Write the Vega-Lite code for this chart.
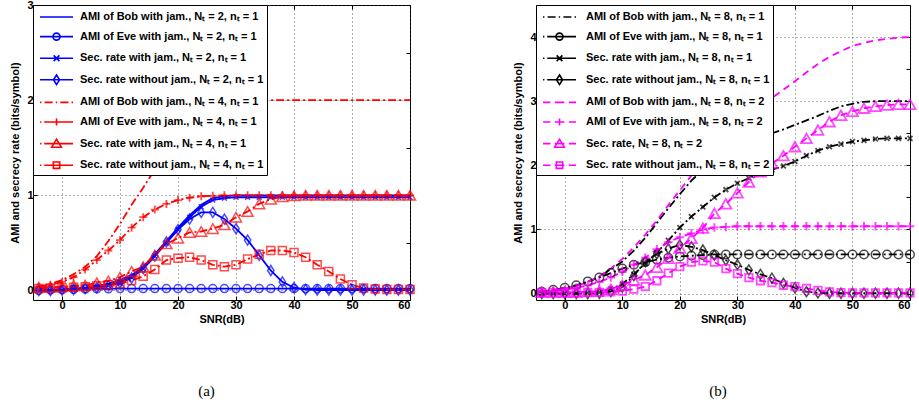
{
"$schema": "https://vega.github.io/schema/vega-lite/v6.json",
"padding": {"left": 9, "top": -2, "right": 0, "bottom": 0},
"background": "white",
"bounds": "flush",
"spacing": 126,
"resolve": {"scale": {"stroke": "independent", "strokeDash": "independent", "color": "independent", "shape": "independent"}, "legend": {"color": "independent", "shape": "independent"}},
"config": {
 "view": {"stroke": "black", "strokeWidth": 1},
 "font": "Liberation Sans",
 "legend": {"fillColor": "white", "strokeColor": "black", "strokeWidth": 1, "cornerRadius": 0},
 "axis": {"labelFont": "Liberation Sans", "labelFontWeight": "bold", "labelFontSize": 11, "labelColor": "black", "titleFont": "Liberation Sans", "titleFontWeight": "bold", "titleFontSize": 11, "titleColor": "black", "domain": false, "tickColor": "black", "tickSize": -4, "gridColor": "#333333", "gridDash": [1, 3], "gridWidth": 0.8, "gridOpacity": 1}
},
"datasets": {
"a": [
{"s":"a1","x":-4,"y":0},{"s":"a1","x":-2,"y":0.005},{"s":"a1","x":0,"y":0.01},{"s":"a1","x":2,"y":0.02},{"s":"a1","x":4,"y":0.03},{"s":"a1","x":6,"y":0.05},{"s":"a1","x":8,"y":0.07},{"s":"a1","x":10,"y":0.11},{"s":"a1","x":12,"y":0.16},{"s":"a1","x":14,"y":0.25},{"s":"a1","x":16,"y":0.38},{"s":"a1","x":18,"y":0.52},{"s":"a1","x":20,"y":0.66},{"s":"a1","x":22,"y":0.79},{"s":"a1","x":24,"y":0.9},{"s":"a1","x":26,"y":0.97},{"s":"a1","x":28,"y":0.99},{"s":"a1","x":30,"y":1},{"s":"a1","x":32,"y":1},{"s":"a1","x":34,"y":1},{"s":"a1","x":36,"y":1},{"s":"a1","x":38,"y":1},{"s":"a1","x":40,"y":1},{"s":"a1","x":42,"y":1},{"s":"a1","x":44,"y":1},{"s":"a1","x":46,"y":1},{"s":"a1","x":48,"y":1},{"s":"a1","x":50,"y":1},{"s":"a1","x":52,"y":1},{"s":"a1","x":54,"y":1},{"s":"a1","x":56,"y":1},{"s":"a1","x":58,"y":1},{"s":"a1","x":60,"y":1},
{"s":"a2","x":-4,"y":0},{"s":"a2","x":-2,"y":0.005},{"s":"a2","x":0,"y":0.01},{"s":"a2","x":2,"y":0.012},{"s":"a2","x":4,"y":0.015},{"s":"a2","x":6,"y":0.017},{"s":"a2","x":8,"y":0.018},{"s":"a2","x":10,"y":0.02},{"s":"a2","x":12,"y":0.02},{"s":"a2","x":14,"y":0.02},{"s":"a2","x":16,"y":0.02},{"s":"a2","x":18,"y":0.02},{"s":"a2","x":20,"y":0.02},{"s":"a2","x":22,"y":0.02},{"s":"a2","x":24,"y":0.02},{"s":"a2","x":26,"y":0.02},{"s":"a2","x":28,"y":0.02},{"s":"a2","x":30,"y":0.02},{"s":"a2","x":32,"y":0.02},{"s":"a2","x":34,"y":0.02},{"s":"a2","x":36,"y":0.02},{"s":"a2","x":38,"y":0.02},{"s":"a2","x":40,"y":0.02},{"s":"a2","x":42,"y":0.02},{"s":"a2","x":44,"y":0.02},{"s":"a2","x":46,"y":0.02},{"s":"a2","x":48,"y":0.02},{"s":"a2","x":50,"y":0.02},{"s":"a2","x":52,"y":0.02},{"s":"a2","x":54,"y":0.02},{"s":"a2","x":56,"y":0.02},{"s":"a2","x":58,"y":0.02},{"s":"a2","x":60,"y":0.02},
{"s":"a3","x":-4,"y":0},{"s":"a3","x":-2,"y":0},{"s":"a3","x":0,"y":0},{"s":"a3","x":2,"y":0.01},{"s":"a3","x":4,"y":0.02},{"s":"a3","x":6,"y":0.03},{"s":"a3","x":8,"y":0.05},{"s":"a3","x":10,"y":0.09},{"s":"a3","x":12,"y":0.14},{"s":"a3","x":14,"y":0.23},{"s":"a3","x":16,"y":0.36},{"s":"a3","x":18,"y":0.5},{"s":"a3","x":20,"y":0.64},{"s":"a3","x":22,"y":0.77},{"s":"a3","x":24,"y":0.88},{"s":"a3","x":26,"y":0.95},{"s":"a3","x":28,"y":0.97},{"s":"a3","x":30,"y":0.98},{"s":"a3","x":32,"y":0.98},{"s":"a3","x":34,"y":0.98},{"s":"a3","x":36,"y":0.98},{"s":"a3","x":38,"y":0.98},{"s":"a3","x":40,"y":0.98},{"s":"a3","x":42,"y":0.98},{"s":"a3","x":44,"y":0.98},{"s":"a3","x":46,"y":0.98},{"s":"a3","x":48,"y":0.98},{"s":"a3","x":50,"y":0.98},{"s":"a3","x":52,"y":0.98},{"s":"a3","x":54,"y":0.98},{"s":"a3","x":56,"y":0.98},{"s":"a3","x":58,"y":0.98},{"s":"a3","x":60,"y":0.98},
{"s":"a4","x":-4,"y":0},{"s":"a4","x":-2,"y":0},{"s":"a4","x":0,"y":0.005},{"s":"a4","x":2,"y":0.01},{"s":"a4","x":4,"y":0.02},{"s":"a4","x":6,"y":0.03},{"s":"a4","x":8,"y":0.05},{"s":"a4","x":10,"y":0.08},{"s":"a4","x":12,"y":0.13},{"s":"a4","x":14,"y":0.23},{"s":"a4","x":16,"y":0.36},{"s":"a4","x":18,"y":0.51},{"s":"a4","x":20,"y":0.64},{"s":"a4","x":22,"y":0.75},{"s":"a4","x":24,"y":0.82},{"s":"a4","x":26,"y":0.82},{"s":"a4","x":28,"y":0.75},{"s":"a4","x":30,"y":0.65},{"s":"a4","x":32,"y":0.53},{"s":"a4","x":34,"y":0.37},{"s":"a4","x":36,"y":0.21},{"s":"a4","x":38,"y":0.09},{"s":"a4","x":40,"y":0.03},{"s":"a4","x":42,"y":0.01},{"s":"a4","x":44,"y":0.005},{"s":"a4","x":46,"y":0.005},{"s":"a4","x":48,"y":0.005},{"s":"a4","x":50,"y":0.005},{"s":"a4","x":52,"y":0.005},{"s":"a4","x":54,"y":0.005},{"s":"a4","x":56,"y":0.005},{"s":"a4","x":58,"y":0.005},{"s":"a4","x":60,"y":0.005},
{"s":"a5","x":-4,"y":0.04},{"s":"a5","x":-2,"y":0.07},{"s":"a5","x":0,"y":0.11},{"s":"a5","x":2,"y":0.17},{"s":"a5","x":4,"y":0.25},{"s":"a5","x":6,"y":0.36},{"s":"a5","x":8,"y":0.52},{"s":"a5","x":10,"y":0.7},{"s":"a5","x":12,"y":0.9},{"s":"a5","x":14,"y":1.08},{"s":"a5","x":16,"y":1.27},{"s":"a5","x":18,"y":1.45},{"s":"a5","x":20,"y":1.6},{"s":"a5","x":22,"y":1.73},{"s":"a5","x":24,"y":1.83},{"s":"a5","x":26,"y":1.9},{"s":"a5","x":28,"y":1.95},{"s":"a5","x":30,"y":1.98},{"s":"a5","x":32,"y":1.99},{"s":"a5","x":34,"y":2},{"s":"a5","x":36,"y":2},{"s":"a5","x":38,"y":2},{"s":"a5","x":40,"y":2},{"s":"a5","x":42,"y":2},{"s":"a5","x":44,"y":2},{"s":"a5","x":46,"y":2},{"s":"a5","x":48,"y":2},{"s":"a5","x":50,"y":2},{"s":"a5","x":52,"y":2},{"s":"a5","x":54,"y":2},{"s":"a5","x":56,"y":2},{"s":"a5","x":58,"y":2},{"s":"a5","x":60,"y":2},
{"s":"a6","x":-4,"y":0.035},{"s":"a6","x":-2,"y":0.06},{"s":"a6","x":0,"y":0.09},{"s":"a6","x":2,"y":0.14},{"s":"a6","x":4,"y":0.22},{"s":"a6","x":6,"y":0.32},{"s":"a6","x":8,"y":0.42},{"s":"a6","x":10,"y":0.53},{"s":"a6","x":12,"y":0.66},{"s":"a6","x":14,"y":0.77},{"s":"a6","x":16,"y":0.85},{"s":"a6","x":18,"y":0.91},{"s":"a6","x":20,"y":0.95},{"s":"a6","x":22,"y":0.975},{"s":"a6","x":24,"y":0.99},{"s":"a6","x":26,"y":0.995},{"s":"a6","x":28,"y":1},{"s":"a6","x":30,"y":1},{"s":"a6","x":32,"y":1},{"s":"a6","x":34,"y":1},{"s":"a6","x":36,"y":1},{"s":"a6","x":38,"y":1},{"s":"a6","x":40,"y":1},{"s":"a6","x":42,"y":1},{"s":"a6","x":44,"y":1},{"s":"a6","x":46,"y":1},{"s":"a6","x":48,"y":1},{"s":"a6","x":50,"y":1},{"s":"a6","x":52,"y":1},{"s":"a6","x":54,"y":1},{"s":"a6","x":56,"y":1},{"s":"a6","x":58,"y":1},{"s":"a6","x":60,"y":1},
{"s":"a7","x":-4,"y":0.035},{"s":"a7","x":-2,"y":0.035},{"s":"a7","x":0,"y":0.04},{"s":"a7","x":2,"y":0.05},{"s":"a7","x":4,"y":0.055},{"s":"a7","x":6,"y":0.08},{"s":"a7","x":8,"y":0.1},{"s":"a7","x":10,"y":0.14},{"s":"a7","x":12,"y":0.2},{"s":"a7","x":14,"y":0.25},{"s":"a7","x":16,"y":0.37},{"s":"a7","x":18,"y":0.49},{"s":"a7","x":20,"y":0.55},{"s":"a7","x":22,"y":0.61},{"s":"a7","x":24,"y":0.62},{"s":"a7","x":26,"y":0.65},{"s":"a7","x":28,"y":0.69},{"s":"a7","x":30,"y":0.77},{"s":"a7","x":32,"y":0.83},{"s":"a7","x":34,"y":0.91},{"s":"a7","x":36,"y":0.96},{"s":"a7","x":38,"y":0.985},{"s":"a7","x":40,"y":0.995},{"s":"a7","x":42,"y":1},{"s":"a7","x":44,"y":1},{"s":"a7","x":46,"y":1},{"s":"a7","x":48,"y":1},{"s":"a7","x":50,"y":1},{"s":"a7","x":52,"y":1},{"s":"a7","x":54,"y":1},{"s":"a7","x":56,"y":1},{"s":"a7","x":58,"y":1},{"s":"a7","x":60,"y":1},
{"s":"a8","x":-4,"y":0.02},{"s":"a8","x":-2,"y":0.025},{"s":"a8","x":0,"y":0.03},{"s":"a8","x":2,"y":0.035},{"s":"a8","x":4,"y":0.04},{"s":"a8","x":6,"y":0.05},{"s":"a8","x":8,"y":0.06},{"s":"a8","x":10,"y":0.07},{"s":"a8","x":12,"y":0.105},{"s":"a8","x":14,"y":0.15},{"s":"a8","x":16,"y":0.22},{"s":"a8","x":18,"y":0.32},{"s":"a8","x":20,"y":0.34},{"s":"a8","x":22,"y":0.35},{"s":"a8","x":24,"y":0.32},{"s":"a8","x":26,"y":0.27},{"s":"a8","x":28,"y":0.25},{"s":"a8","x":30,"y":0.27},{"s":"a8","x":32,"y":0.33},{"s":"a8","x":34,"y":0.38},{"s":"a8","x":36,"y":0.42},{"s":"a8","x":38,"y":0.42},{"s":"a8","x":40,"y":0.4},{"s":"a8","x":42,"y":0.35},{"s":"a8","x":44,"y":0.27},{"s":"a8","x":46,"y":0.2},{"s":"a8","x":48,"y":0.12},{"s":"a8","x":50,"y":0.06},{"s":"a8","x":52,"y":0.025},{"s":"a8","x":54,"y":0.015},{"s":"a8","x":56,"y":0.01},{"s":"a8","x":58,"y":0.01},{"s":"a8","x":60,"y":0.01}
],
"b": [
{"s":"b1","x":-4,"y":0.03},{"s":"b1","x":-2,"y":0.05},{"s":"b1","x":0,"y":0.08},{"s":"b1","x":2,"y":0.12},{"s":"b1","x":4,"y":0.18},{"s":"b1","x":6,"y":0.26},{"s":"b1","x":8,"y":0.38},{"s":"b1","x":10,"y":0.5},{"s":"b1","x":12,"y":0.67},{"s":"b1","x":14,"y":0.87},{"s":"b1","x":16,"y":1.1},{"s":"b1","x":18,"y":1.33},{"s":"b1","x":20,"y":1.55},{"s":"b1","x":22,"y":1.76},{"s":"b1","x":24,"y":1.93},{"s":"b1","x":26,"y":2.07},{"s":"b1","x":28,"y":2.18},{"s":"b1","x":30,"y":2.28},{"s":"b1","x":32,"y":2.36},{"s":"b1","x":34,"y":2.43},{"s":"b1","x":36,"y":2.5},{"s":"b1","x":38,"y":2.56},{"s":"b1","x":40,"y":2.63},{"s":"b1","x":42,"y":2.7},{"s":"b1","x":44,"y":2.77},{"s":"b1","x":46,"y":2.85},{"s":"b1","x":48,"y":2.92},{"s":"b1","x":50,"y":2.96},{"s":"b1","x":52,"y":2.99},{"s":"b1","x":54,"y":3},{"s":"b1","x":56,"y":3},{"s":"b1","x":58,"y":3},{"s":"b1","x":60,"y":3},
{"s":"b2","x":-4,"y":0.03},{"s":"b2","x":-2,"y":0.06},{"s":"b2","x":0,"y":0.09},{"s":"b2","x":2,"y":0.13},{"s":"b2","x":4,"y":0.19},{"s":"b2","x":6,"y":0.25},{"s":"b2","x":8,"y":0.32},{"s":"b2","x":10,"y":0.39},{"s":"b2","x":12,"y":0.45},{"s":"b2","x":14,"y":0.49},{"s":"b2","x":16,"y":0.53},{"s":"b2","x":18,"y":0.56},{"s":"b2","x":20,"y":0.58},{"s":"b2","x":22,"y":0.59},{"s":"b2","x":24,"y":0.6},{"s":"b2","x":26,"y":0.61},{"s":"b2","x":28,"y":0.61},{"s":"b2","x":30,"y":0.61},{"s":"b2","x":32,"y":0.61},{"s":"b2","x":34,"y":0.61},{"s":"b2","x":36,"y":0.61},{"s":"b2","x":38,"y":0.61},{"s":"b2","x":40,"y":0.61},{"s":"b2","x":42,"y":0.61},{"s":"b2","x":44,"y":0.61},{"s":"b2","x":46,"y":0.61},{"s":"b2","x":48,"y":0.61},{"s":"b2","x":50,"y":0.61},{"s":"b2","x":52,"y":0.61},{"s":"b2","x":54,"y":0.61},{"s":"b2","x":56,"y":0.61},{"s":"b2","x":58,"y":0.61},{"s":"b2","x":60,"y":0.61},
{"s":"b3","x":-4,"y":0},{"s":"b3","x":-2,"y":0},{"s":"b3","x":0,"y":0},{"s":"b3","x":2,"y":0.005},{"s":"b3","x":4,"y":0.01},{"s":"b3","x":6,"y":0.02},{"s":"b3","x":8,"y":0.07},{"s":"b3","x":10,"y":0.15},{"s":"b3","x":12,"y":0.3},{"s":"b3","x":14,"y":0.47},{"s":"b3","x":16,"y":0.64},{"s":"b3","x":18,"y":0.83},{"s":"b3","x":20,"y":1.03},{"s":"b3","x":22,"y":1.2},{"s":"b3","x":24,"y":1.35},{"s":"b3","x":26,"y":1.5},{"s":"b3","x":28,"y":1.62},{"s":"b3","x":30,"y":1.72},{"s":"b3","x":32,"y":1.8},{"s":"b3","x":34,"y":1.87},{"s":"b3","x":36,"y":1.93},{"s":"b3","x":38,"y":1.99},{"s":"b3","x":40,"y":2.06},{"s":"b3","x":42,"y":2.15},{"s":"b3","x":44,"y":2.23},{"s":"b3","x":46,"y":2.29},{"s":"b3","x":48,"y":2.33},{"s":"b3","x":50,"y":2.37},{"s":"b3","x":52,"y":2.39},{"s":"b3","x":54,"y":2.41},{"s":"b3","x":56,"y":2.42},{"s":"b3","x":58,"y":2.42},{"s":"b3","x":60,"y":2.42},
{"s":"b4","x":-4,"y":0},{"s":"b4","x":-2,"y":0},{"s":"b4","x":0,"y":0},{"s":"b4","x":2,"y":0},{"s":"b4","x":4,"y":0},{"s":"b4","x":6,"y":0.005},{"s":"b4","x":8,"y":0.03},{"s":"b4","x":10,"y":0.1},{"s":"b4","x":12,"y":0.28},{"s":"b4","x":14,"y":0.5},{"s":"b4","x":16,"y":0.62},{"s":"b4","x":18,"y":0.7},{"s":"b4","x":20,"y":0.76},{"s":"b4","x":22,"y":0.73},{"s":"b4","x":24,"y":0.68},{"s":"b4","x":26,"y":0.6},{"s":"b4","x":28,"y":0.52},{"s":"b4","x":30,"y":0.45},{"s":"b4","x":32,"y":0.37},{"s":"b4","x":34,"y":0.3},{"s":"b4","x":36,"y":0.24},{"s":"b4","x":38,"y":0.16},{"s":"b4","x":40,"y":0.09},{"s":"b4","x":42,"y":0.03},{"s":"b4","x":44,"y":0.01},{"s":"b4","x":46,"y":0.005},{"s":"b4","x":48,"y":0.005},{"s":"b4","x":50,"y":0.005},{"s":"b4","x":52,"y":0.005},{"s":"b4","x":54,"y":0.005},{"s":"b4","x":56,"y":0.005},{"s":"b4","x":58,"y":0.005},{"s":"b4","x":60,"y":0.005},
{"s":"b5","x":-4,"y":0.03},{"s":"b5","x":-2,"y":0.05},{"s":"b5","x":0,"y":0.08},{"s":"b5","x":2,"y":0.12},{"s":"b5","x":4,"y":0.18},{"s":"b5","x":6,"y":0.27},{"s":"b5","x":8,"y":0.39},{"s":"b5","x":10,"y":0.54},{"s":"b5","x":12,"y":0.72},{"s":"b5","x":14,"y":0.92},{"s":"b5","x":16,"y":1.14},{"s":"b5","x":18,"y":1.38},{"s":"b5","x":20,"y":1.61},{"s":"b5","x":22,"y":1.84},{"s":"b5","x":24,"y":2.06},{"s":"b5","x":26,"y":2.27},{"s":"b5","x":28,"y":2.46},{"s":"b5","x":30,"y":2.63},{"s":"b5","x":32,"y":2.78},{"s":"b5","x":34,"y":2.92},{"s":"b5","x":36,"y":3.05},{"s":"b5","x":38,"y":3.18},{"s":"b5","x":40,"y":3.31},{"s":"b5","x":42,"y":3.45},{"s":"b5","x":44,"y":3.58},{"s":"b5","x":46,"y":3.69},{"s":"b5","x":48,"y":3.78},{"s":"b5","x":50,"y":3.86},{"s":"b5","x":52,"y":3.91},{"s":"b5","x":54,"y":3.95},{"s":"b5","x":56,"y":3.97},{"s":"b5","x":58,"y":3.99},{"s":"b5","x":60,"y":4},
{"s":"b6","x":-4,"y":0.03},{"s":"b6","x":-2,"y":0.04},{"s":"b6","x":0,"y":0.06},{"s":"b6","x":2,"y":0.09},{"s":"b6","x":4,"y":0.13},{"s":"b6","x":6,"y":0.18},{"s":"b6","x":8,"y":0.25},{"s":"b6","x":10,"y":0.34},{"s":"b6","x":12,"y":0.45},{"s":"b6","x":14,"y":0.56},{"s":"b6","x":16,"y":0.69},{"s":"b6","x":18,"y":0.8},{"s":"b6","x":20,"y":0.88},{"s":"b6","x":22,"y":0.94},{"s":"b6","x":24,"y":1},{"s":"b6","x":26,"y":1.03},{"s":"b6","x":28,"y":1.04},{"s":"b6","x":30,"y":1.05},{"s":"b6","x":32,"y":1.05},{"s":"b6","x":34,"y":1.05},{"s":"b6","x":36,"y":1.05},{"s":"b6","x":38,"y":1.05},{"s":"b6","x":40,"y":1.05},{"s":"b6","x":42,"y":1.05},{"s":"b6","x":44,"y":1.05},{"s":"b6","x":46,"y":1.05},{"s":"b6","x":48,"y":1.05},{"s":"b6","x":50,"y":1.05},{"s":"b6","x":52,"y":1.05},{"s":"b6","x":54,"y":1.05},{"s":"b6","x":56,"y":1.05},{"s":"b6","x":58,"y":1.05},{"s":"b6","x":60,"y":1.05},
{"s":"b7","x":-4,"y":0.02},{"s":"b7","x":-2,"y":0.02},{"s":"b7","x":0,"y":0.02},{"s":"b7","x":2,"y":0.02},{"s":"b7","x":4,"y":0.03},{"s":"b7","x":6,"y":0.04},{"s":"b7","x":8,"y":0.07},{"s":"b7","x":10,"y":0.13},{"s":"b7","x":12,"y":0.21},{"s":"b7","x":14,"y":0.29},{"s":"b7","x":16,"y":0.41},{"s":"b7","x":18,"y":0.55},{"s":"b7","x":20,"y":0.71},{"s":"b7","x":22,"y":0.86},{"s":"b7","x":24,"y":1.02},{"s":"b7","x":26,"y":1.25},{"s":"b7","x":28,"y":1.4},{"s":"b7","x":30,"y":1.57},{"s":"b7","x":32,"y":1.74},{"s":"b7","x":34,"y":1.9},{"s":"b7","x":36,"y":2.03},{"s":"b7","x":38,"y":2.15},{"s":"b7","x":40,"y":2.29},{"s":"b7","x":42,"y":2.42},{"s":"b7","x":44,"y":2.55},{"s":"b7","x":46,"y":2.68},{"s":"b7","x":48,"y":2.78},{"s":"b7","x":50,"y":2.84},{"s":"b7","x":52,"y":2.89},{"s":"b7","x":54,"y":2.92},{"s":"b7","x":56,"y":2.94},{"s":"b7","x":58,"y":2.95},{"s":"b7","x":60,"y":2.95},
{"s":"b8","x":-4,"y":0.02},{"s":"b8","x":-2,"y":0.02},{"s":"b8","x":0,"y":0.02},{"s":"b8","x":2,"y":0.02},{"s":"b8","x":4,"y":0.02},{"s":"b8","x":6,"y":0.02},{"s":"b8","x":8,"y":0.025},{"s":"b8","x":10,"y":0.04},{"s":"b8","x":12,"y":0.07},{"s":"b8","x":14,"y":0.11},{"s":"b8","x":16,"y":0.2},{"s":"b8","x":18,"y":0.32},{"s":"b8","x":20,"y":0.42},{"s":"b8","x":22,"y":0.49},{"s":"b8","x":24,"y":0.51},{"s":"b8","x":26,"y":0.49},{"s":"b8","x":28,"y":0.39},{"s":"b8","x":30,"y":0.31},{"s":"b8","x":32,"y":0.25},{"s":"b8","x":34,"y":0.2},{"s":"b8","x":36,"y":0.17},{"s":"b8","x":38,"y":0.13},{"s":"b8","x":40,"y":0.11},{"s":"b8","x":42,"y":0.08},{"s":"b8","x":44,"y":0.05},{"s":"b8","x":46,"y":0.025},{"s":"b8","x":48,"y":0.015},{"s":"b8","x":50,"y":0.01},{"s":"b8","x":52,"y":0.01},{"s":"b8","x":54,"y":0.01},{"s":"b8","x":56,"y":0.01},{"s":"b8","x":58,"y":0.01},{"s":"b8","x":60,"y":0.01}
]
},
"hconcat": [
{
 "width": 377, "height": 295,
 "data": {"name": "a"},
 "title": {"text": "(a)", "orient": "bottom", "font": "Liberation Serif", "fontSize": 15, "fontWeight": "normal", "offset": 60, "dx": -15, "color": "black"},
 "layer": [
  {"mark": {"type": "line", "strokeWidth": 1.8},
   "encoding": {
    "x": {"field": "x", "type": "quantitative", "scale": {"domain": [-5, 60], "nice": false, "zero": false}, "axis": {"orient": "bottom", "values": [0,10,20,30,40,50,60], "title": "SNR(dB)", "grid": true, "labelPadding": 3, "titlePadding": 3}},
    "y": {"field": "y", "type": "quantitative", "scale": {"domain": [-0.1, 3], "nice": false, "zero": false}, "axis": {"orient": "left", "values": [0,0.5,1,1.5,2,2.5,3], "format": "d", "labelExpr": "datum.value % 1 === 0 ? datum.label : ''", "title": "AMI and secrecy rate (bits/symbol)", "grid": true, "labelPadding": 4, "titlePadding": 6}},
    "stroke": {"field": "s", "type": "nominal", "scale": {"range": ["#0000ff","#0000ff","#0000ff","#0000ff","#ff0000","#ff0000","#ff0000","#ff0000"]}, "legend": null},
    "strokeDash": {"field": "s", "type": "nominal", "scale": {"range": [[1,0],[1,0],[1,0],[1,0],[8,3,2,3],[8,3,2,3],[8,3,2,3],[8,3,2,3]]}, "legend": null}
   }},
  {"transform": [{"filter": "datum.s === 'a2'"}], "mark": {"type": "point", "shape": "circle", "filled": false, "size": 64, "strokeWidth": 1.5},
   "encoding": {"x": {"field": "x", "type": "quantitative", "axis": null}, "y": {"field": "y", "type": "quantitative", "axis": null}, "stroke": {"field": "s", "type": "nominal", "legend": null}}},
  {"transform": [{"filter": "datum.s === 'a3'"}], "mark": {"type": "point", "shape": "M-0.7,-0.7L0.7,0.7M-0.7,0.7L0.7,-0.7", "filled": false, "size": 49, "strokeWidth": 1.5},
   "encoding": {"x": {"field": "x", "type": "quantitative", "axis": null}, "y": {"field": "y", "type": "quantitative", "axis": null}, "stroke": {"field": "s", "type": "nominal", "legend": null}}},
  {"transform": [{"filter": "datum.s === 'a4'"}], "mark": {"type": "point", "shape": "M0,-1.25L0.8,0L0,1.25L-0.8,0Z", "filled": false, "size": 64, "strokeWidth": 1.5},
   "encoding": {"x": {"field": "x", "type": "quantitative", "axis": null}, "y": {"field": "y", "type": "quantitative", "axis": null}, "stroke": {"field": "s", "type": "nominal", "legend": null}}},
  {"transform": [{"filter": "datum.s === 'a6'"}], "mark": {"type": "point", "shape": "M-1,0H1M0,-1V1", "filled": false, "size": 64, "strokeWidth": 1.8},
   "encoding": {"x": {"field": "x", "type": "quantitative", "axis": null}, "y": {"field": "y", "type": "quantitative", "axis": null}, "stroke": {"field": "s", "type": "nominal", "legend": null}}},
  {"transform": [{"filter": "datum.s === 'a7'"}], "mark": {"type": "point", "shape": "triangle-up", "filled": false, "size": 121, "strokeWidth": 1.5},
   "encoding": {"x": {"field": "x", "type": "quantitative", "axis": null}, "y": {"field": "y", "type": "quantitative", "axis": null}, "stroke": {"field": "s", "type": "nominal", "legend": null}}},
  {"transform": [{"filter": "datum.s === 'a8'"}], "mark": {"type": "point", "shape": "square", "filled": false, "size": 64, "strokeWidth": 1.5},
   "encoding": {"x": {"field": "x", "type": "quantitative", "axis": null}, "y": {"field": "y", "type": "quantitative", "axis": null}, "stroke": {"field": "s", "type": "nominal", "legend": null}}},
  {"mark": {"type": "point", "filled": false, "opacity": 0},
   "encoding": {
    "x": {"field": "x", "type": "quantitative", "axis": {"orient": "top", "values": [0,10,20,30,40,50,60], "labels": false, "grid": false, "title": null}},
    "y": {"field": "y", "type": "quantitative", "axis": {"orient": "right", "values": [0,0.5,1,1.5,2,2.5,3], "labels": false, "grid": false, "title": null}},
    "color": {"field": "s", "type": "nominal", "scale": {"domain": ["a1","a2","a3","a4","a5","a6","a7","a8"], "range": ["#0000ff","#0000ff","#0000ff","#0000ff","#ff0000","#ff0000","#ff0000","#ff0000"]},
     "legend": {"title": null, "orient": "top-left", "offset": 0, "padding": 3, "rowPadding": 5.6, "symbolSize": 256, "symbolStrokeWidth": 1.6, "symbolOpacity": 1, "labelFont": "Liberation Sans", "labelFontWeight": "bold", "labelFontSize": 11, "labelColor": "black", "labelOffset": 26, "labelLimit": 400, "strokeColor": "black", "fillColor": "white",
      "labelExpr": "datum.label === 'a1' ? 'AMI of Bob with jam., Nₜ = 2, nₜ = 1    ' : datum.label === 'a2' ? 'AMI of Eve with jam., Nₜ = 2, nₜ = 1    ' : datum.label === 'a3' ? 'Sec. rate with jam., Nₜ = 2, nₜ = 1    ' : datum.label === 'a4' ? 'Sec. rate without jam., Nₜ = 2, nₜ = 1    ' : datum.label === 'a5' ? 'AMI of Bob with jam., Nₜ = 4, nₜ = 1    ' : datum.label === 'a6' ? 'AMI of Eve with jam., Nₜ = 4, nₜ = 1    ' : datum.label === 'a7' ? 'Sec. rate with jam., Nₜ = 4, nₜ = 1    ' : 'Sec. rate without jam., Nₜ = 4, nₜ = 1    '"}},
    "shape": {"field": "s", "type": "nominal", "scale": {"domain": ["a1","a2","a3","a4","a5","a6","a7","a8"], "range": [
      "M-0.62,0H3.5",
      "M-0.62,0H3.5M1.88,0A0.44,0.44,0,1,1,1,0A0.44,0.44,0,1,1,1.88,0",
      "M-0.62,0H3.5M1.08,-0.36L1.8,0.36M1.08,0.36L1.8,-0.36",
      "M-0.62,0H3.5M1.44,-0.6L1.82,0L1.44,0.6L1.06,0Z",
      "M-0.62,0H-0.45M-0.05,0H0.95M1.35,0H1.52M1.92,0H2.92M3.32,0H3.5",
      "M-0.62,0H-0.45M-0.1,0H3.5M1,0H1.88M1.44,-0.44V0.44",
      "M-0.62,0H-0.45M-0.1,0H3.5M1.44,-0.55L2.04,0.45L0.84,0.45Z",
      "M-0.62,0H-0.45M-0.1,0H3.5M1.04,-0.4H1.84V0.4H1.04Z"]}}
   }}
 ]
},
{
 "width": 374, "height": 295,
 "data": {"name": "b"},
 "title": {"text": "(b)", "orient": "bottom", "font": "Liberation Serif", "fontSize": 15, "fontWeight": "normal", "offset": 60, "dx": -5, "color": "black"},
 "layer": [
  {"mark": {"type": "line", "strokeWidth": 1.8},
   "encoding": {
    "x": {"field": "x", "type": "quantitative", "scale": {"domain": [-5, 60], "nice": false, "zero": false}, "axis": {"orient": "bottom", "values": [0,10,20,30,40,50,60], "title": "SNR(dB)", "grid": true, "labelPadding": 3, "titlePadding": 3}},
    "y": {"field": "y", "type": "quantitative", "scale": {"domain": [-0.1, 4.5], "nice": false, "zero": false}, "axis": {"orient": "left", "values": [0,0.5,1,1.5,2,2.5,3,3.5,4], "format": "d", "labelExpr": "datum.value % 1 === 0 ? datum.label : ''", "title": "AMI and secrecy rate (bits/symbol)", "grid": true, "labelPadding": 4, "titlePadding": 6}},
    "stroke": {"field": "s", "type": "nominal", "scale": {"range": ["#000000","#000000","#000000","#000000","#ff00ff","#ff00ff","#ff00ff","#ff00ff"]}, "legend": null},
    "strokeDash": {"field": "s", "type": "nominal", "scale": {"range": [[8,3,2,3],[8,3,2,3],[8,3,2,3],[8,3,2,3],[7,5],[7,5],[7,5],[7,5]]}, "legend": null}
   }},
  {"transform": [{"filter": "datum.s === 'b2'"}], "mark": {"type": "point", "shape": "circle", "filled": false, "size": 72, "strokeWidth": 1.5},
   "encoding": {"x": {"field": "x", "type": "quantitative", "axis": null}, "y": {"field": "y", "type": "quantitative", "axis": null}, "stroke": {"field": "s", "type": "nominal", "legend": null}}},
  {"transform": [{"filter": "datum.s === 'b3'"}], "mark": {"type": "point", "shape": "M-0.7,-0.7L0.7,0.7M-0.7,0.7L0.7,-0.7", "filled": false, "size": 49, "strokeWidth": 1.8},
   "encoding": {"x": {"field": "x", "type": "quantitative", "axis": null}, "y": {"field": "y", "type": "quantitative", "axis": null}, "stroke": {"field": "s", "type": "nominal", "legend": null}}},
  {"transform": [{"filter": "datum.s === 'b4'"}], "mark": {"type": "point", "shape": "M0,-1.25L0.8,0L0,1.25L-0.8,0Z", "filled": false, "size": 64, "strokeWidth": 1.5},
   "encoding": {"x": {"field": "x", "type": "quantitative", "axis": null}, "y": {"field": "y", "type": "quantitative", "axis": null}, "stroke": {"field": "s", "type": "nominal", "legend": null}}},
  {"transform": [{"filter": "datum.s === 'b6'"}], "mark": {"type": "point", "shape": "M-1,0H1M0,-1V1", "filled": false, "size": 72, "strokeWidth": 2},
   "encoding": {"x": {"field": "x", "type": "quantitative", "axis": null}, "y": {"field": "y", "type": "quantitative", "axis": null}, "stroke": {"field": "s", "type": "nominal", "legend": null}}},
  {"transform": [{"filter": "datum.s === 'b7'"}], "mark": {"type": "point", "shape": "triangle-up", "filled": false, "size": 121, "strokeWidth": 1.8},
   "encoding": {"x": {"field": "x", "type": "quantitative", "axis": null}, "y": {"field": "y", "type": "quantitative", "axis": null}, "stroke": {"field": "s", "type": "nominal", "legend": null}}},
  {"transform": [{"filter": "datum.s === 'b8'"}], "mark": {"type": "point", "shape": "square", "filled": false, "size": 56, "strokeWidth": 1.8},
   "encoding": {"x": {"field": "x", "type": "quantitative", "axis": null}, "y": {"field": "y", "type": "quantitative", "axis": null}, "stroke": {"field": "s", "type": "nominal", "legend": null}}},
  {"mark": {"type": "point", "filled": false, "opacity": 0},
   "encoding": {
    "x": {"field": "x", "type": "quantitative", "axis": {"orient": "top", "values": [0,10,20,30,40,50,60], "labels": false, "grid": false, "title": null}},
    "y": {"field": "y", "type": "quantitative", "axis": {"orient": "right", "values": [0,0.5,1,1.5,2,2.5,3,3.5,4], "labels": false, "grid": false, "title": null}},
    "color": {"field": "s", "type": "nominal", "scale": {"domain": ["b1","b2","b3","b4","b5","b6","b7","b8"], "range": ["#000000","#000000","#000000","#000000","#ff00ff","#ff00ff","#ff00ff","#ff00ff"]},
     "legend": {"title": null, "orient": "top-left", "offset": 0, "padding": 3, "rowPadding": 5.6, "symbolSize": 256, "symbolStrokeWidth": 1.6, "symbolOpacity": 1, "labelFont": "Liberation Sans", "labelFontWeight": "bold", "labelFontSize": 11, "labelColor": "black", "labelOffset": 29, "labelLimit": 400, "strokeColor": "black", "fillColor": "white",
      "labelExpr": "datum.label === 'b1' ? 'AMI of Bob with jam., Nₜ = 8, nₜ = 1    ' : datum.label === 'b2' ? 'AMI of Eve with jam., Nₜ = 8, nₜ = 1    ' : datum.label === 'b3' ? 'Sec. rate with jam., Nₜ = 8, nₜ = 1    ' : datum.label === 'b4' ? 'Sec. rate without jam., Nₜ = 8, nₜ = 1    ' : datum.label === 'b5' ? 'AMI of Bob with jam., Nₜ = 8, nₜ = 2    ' : datum.label === 'b6' ? 'AMI of Eve with jam., Nₜ = 8, nₜ = 2    ' : datum.label === 'b7' ? 'Sec. rate, Nₜ = 8, nₜ = 2    ' : 'Sec. rate without jam., Nₜ = 8, nₜ = 2    '"}},
    "shape": {"field": "s", "type": "nominal", "scale": {"domain": ["b1","b2","b3","b4","b5","b6","b7","b8"], "range": [
      "M-0.62,0H-0.45M-0.05,0H0.95M1.35,0H1.52M1.92,0H2.92M3.32,0H3.5",
      "M-0.62,0H-0.45M-0.1,0H3.5M1.88,0A0.44,0.44,0,1,1,1,0A0.44,0.44,0,1,1,1.88,0",
      "M-0.62,0H-0.45M-0.1,0H3.5M1.08,-0.36L1.8,0.36M1.08,0.36L1.8,-0.36",
      "M-0.62,0H-0.45M-0.1,0H3.5M1.44,-0.6L1.82,0L1.44,0.6L1.06,0Z",
      "M-0.62,0H0.3M0.85,0H2.05M2.6,0H3.5",
      "M-0.62,0H0.3M0.85,0H2.05M2.6,0H3.5M1,0H1.88M1.44,-0.44V0.44",
      "M-0.62,0H0.3M0.85,0H2.05M2.6,0H3.5M1.44,-0.55L2.04,0.45L0.84,0.45Z",
      "M-0.62,0H0.3M0.85,0H2.05M2.6,0H3.5M1.04,-0.4H1.84V0.4H1.04Z"]}}
   }}
 ]
}
]
}
